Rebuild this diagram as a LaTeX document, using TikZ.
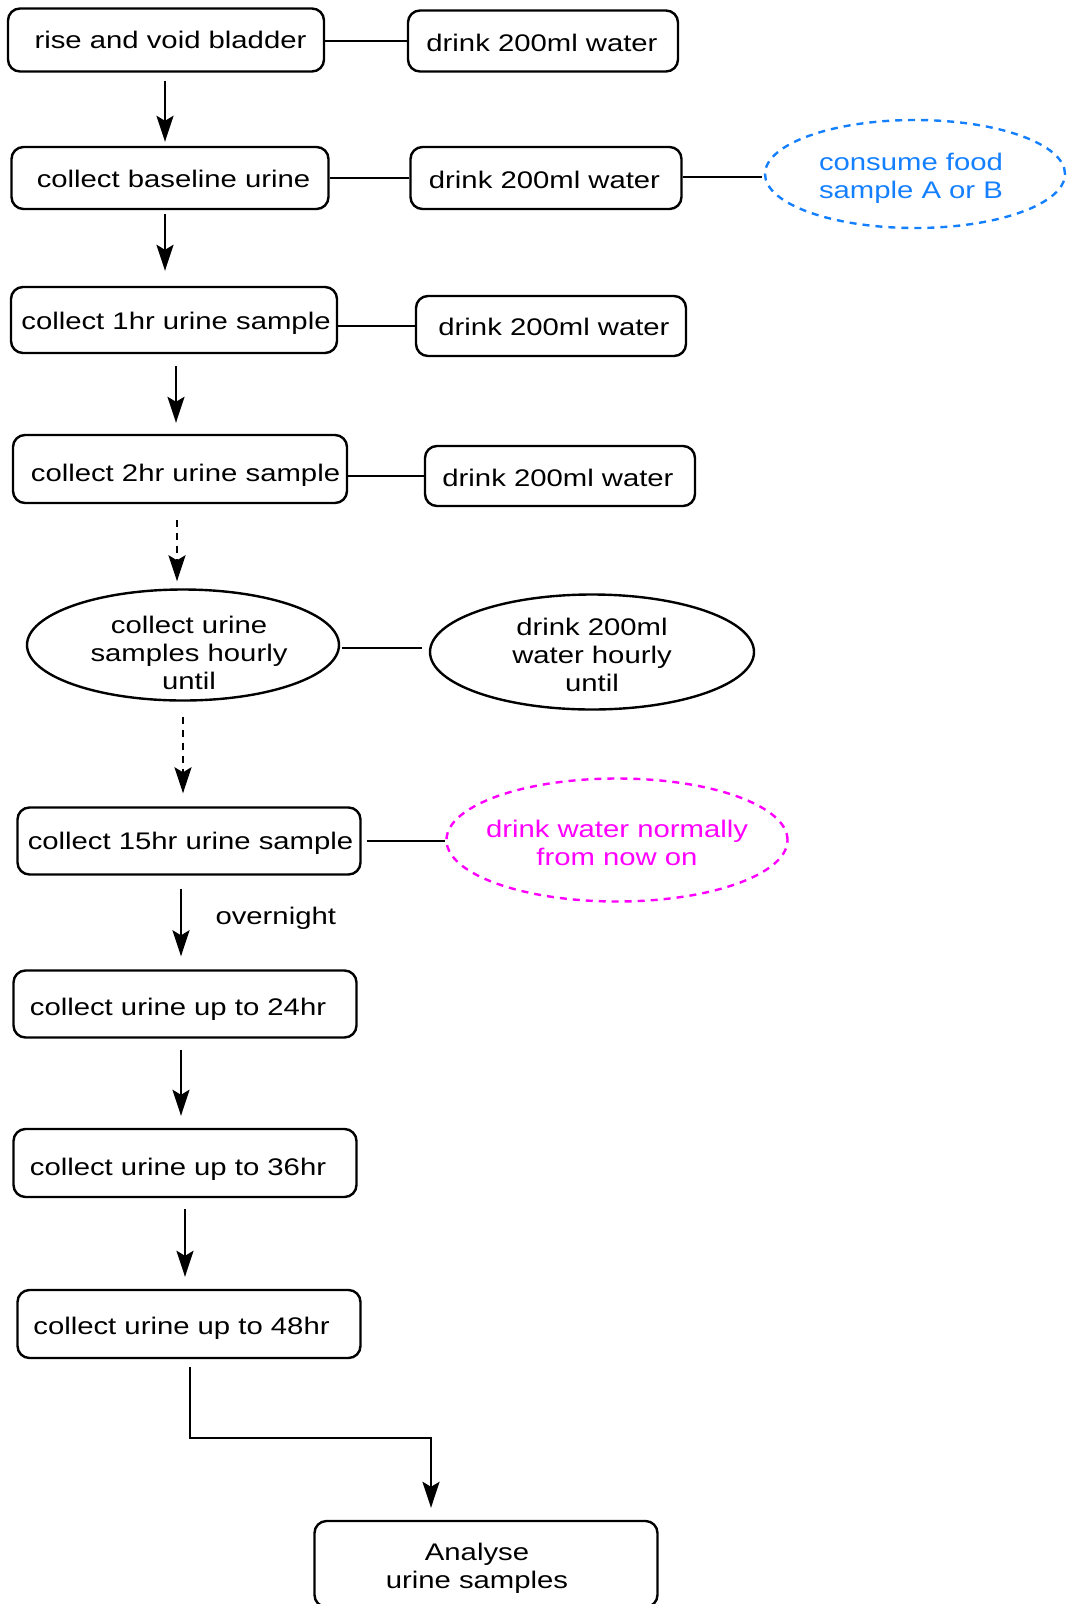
\documentclass[tikz,border=0pt]{standalone}
\usepackage{fontspec}
\setmainfont{Liberation Sans}[FakeStretch=1.22]
\usetikzlibrary{shapes.geometric,arrows.meta,calc}
\definecolor{fblue}{RGB}{20,128,255}
\definecolor{fmag}{RGB}{255,0,255}
\newcommand\myfs{\fontsize{24}{27.6}\selectfont}
\begin{document}
\begin{tikzpicture}[x=1pt,y=-1pt,line width=2.4pt,
  box/.style={draw,rounded corners=12pt,inner sep=0pt},
  oval/.style={draw,ellipse,inner sep=0pt},
  tl/.style={font=\myfs,align=center,inner sep=0pt},
  dsh/.style={dash pattern=on 7pt off 6pt},
  arr/.style={-{Stealth[length=26pt,width=17pt,inset=5pt]}},
  lnk/.style={line width=2.2pt}]
\useasboundingbox (0,0) rectangle (1066,1604);
\node[box,minimum width=316pt,minimum height=63pt,label={[tl,xshift=4.5pt]center:rise and void bladder}] (b1) at (166,40) {};
\node[box,minimum width=270pt,minimum height=61pt,label={[tl,xshift=-1pt,yshift=-2pt]center:drink 200ml water}] (d1) at (543,41) {};
\node[box,minimum width=317pt,minimum height=62pt,label={[tl,xshift=3.5pt,yshift=-1pt]center:collect baseline urine}] (b2) at (170,178) {};
\node[box,minimum width=271pt,minimum height=62pt,label={[tl,xshift=-1.5pt,yshift=-2pt]center:drink 200ml water}] (d2) at (546,178) {};
\node[oval,dsh,draw=fblue,minimum width=300pt,minimum height=108pt,label={[tl,text=fblue,xshift=-4pt,yshift=-4pt]center:consume food\\sample A or B}] (e1) at (915,174) {};
\node[box,minimum width=326pt,minimum height=66pt,label={[tl,xshift=2pt,yshift=-3pt]center:collect 1hr urine sample}] (b3) at (174,320) {};
\node[box,minimum width=270pt,minimum height=60pt,label={[tl,xshift=3pt,yshift=-1pt]center:drink 200ml water}] (d3) at (551,326) {};
\node[box,minimum width=334pt,minimum height=68pt,label={[tl,xshift=5.5pt,yshift=-6pt]center:collect 2hr urine sample}] (b4) at (180,469) {};
\node[box,minimum width=270pt,minimum height=60pt,label={[tl,xshift=-2pt,yshift=-2pt]center:drink 200ml water}] (d4) at (560,476) {};
\node[oval,minimum width=312pt,minimum height=111pt,label={[tl,xshift=6pt,yshift=-8pt]center:collect urine\\samples hourly\\until}] (el) at (183,645) {};
\node[oval,minimum width=324pt,minimum height=115pt,label={[tl,yshift=-3pt]center:drink 200ml\\water hourly\\until}] (er) at (592,652) {};
\node[box,minimum width=343pt,minimum height=67pt,label={[tl,xshift=1.5pt,yshift=-2pt]center:collect 15hr urine sample}] (b5) at (189,841) {};
\node[oval,dsh,draw=fmag,minimum width=341pt,minimum height=123pt,label={[tl,text=fmag,yshift=-3pt]center:drink water normally\\from now on}] (e2) at (617,840) {};
\node[box,minimum width=343pt,minimum height=67pt,label={[tl,xshift=-7pt,yshift=-5pt]center:collect urine up to 24hr}] (b6) at (185,1004) {};
\node[box,minimum width=343pt,minimum height=68pt,label={[tl,xshift=-7pt,yshift=-6pt]center:collect urine up to 36hr}] (b7) at (185,1163) {};
\node[box,minimum width=343pt,minimum height=68pt,label={[tl,xshift=-7.5pt,yshift=-4pt]center:collect urine up to 48hr}] (b8) at (189,1324) {};
\node[box,minimum width=343pt,minimum height=86pt,label={[tl,xshift=-9pt,yshift=-4pt]center:Analyse\\urine samples}] (b9) at (486,1564) {};
% side links
\draw[lnk] (d1.west -| b1.east) -- (d1.west);
\draw[lnk] (b2.east) -- (d2.west);
\draw[lnk,shorten >=2pt] ([yshift=1pt]d2.east) -- ([yshift=1pt]d2.east -| e1.west);
\draw[lnk] (d3.west -| b3.east) -- (d3.west);
\draw[lnk] (d4.west -| b4.east) -- (d4.west);
\draw[lnk,shorten <=2pt,shorten >=7pt] ([yshift=-3pt]el.east) -- ([yshift=-3pt]el.east -| er.west);
\draw[lnk,shorten <=5pt] (b5.east) -- (b5.east -| e2.west);
% arrows
\draw[arr] ($(b1.south)+(-1,8)$) -- ($(b2.north)+(-5,-4)$);
\draw[arr] ($(b2.south)+(-5,4)$) -- ($(b3.north)+(-9,-15)$);
\draw[arr] ($(b3.south)+(2,12)$) -- ($(b4.north)+(-4,-11)$);
\draw[arr,dsh] ($(b4.south)+(-3,16)$) -- ($(el.north)+(-6,-7)$);
\draw[arr,dsh] ($(el.south)+(0,15)$) -- ($(b5.north)+(-6,-13)$);
\draw[arr] ($(b5.south)+(-8,13)$) -- node[midway,right=30pt,yshift=4pt,font=\myfs]{overnight} ($(b6.north)+(-4,-13)$);
\draw[arr] ($(b6.south)+(-4,11)$) -- ($(b7.north)+(-4,-12)$);
\draw[arr] ($(b7.south)+(0,11)$) -- ($(b8.north)+(-4,-12)$);
\draw[arr] ($(b8.south)+(1,8)$) |- ($(b9.north)+(-55,-82)$) -- ($(b9.north)+(-55,-12)$);
\end{tikzpicture}
\end{document}
